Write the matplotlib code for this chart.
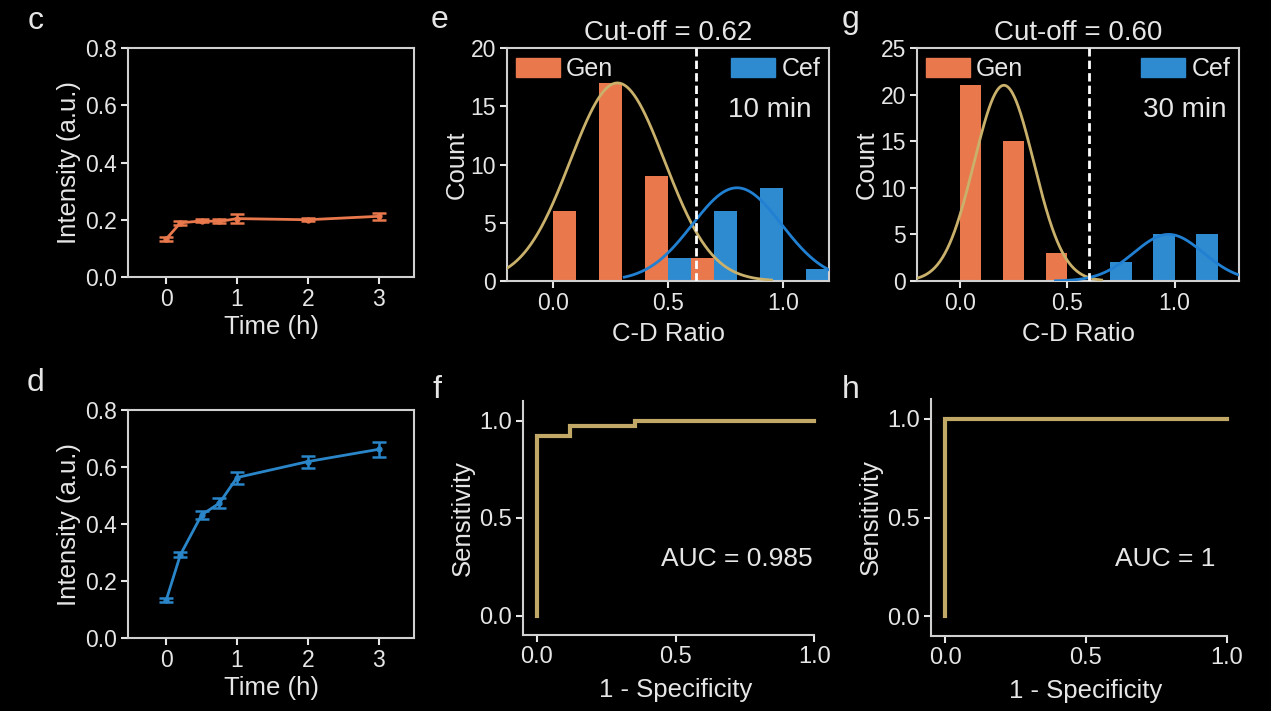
import numpy as np
import matplotlib
matplotlib.use("Agg")
import matplotlib.pyplot as plt
from matplotlib.patches import Patch

plt.rcParams['font.family'] = ['Liberation Sans', 'DejaVu Sans']

# ---------------- data ----------------
time_h = [0, 0.2, 0.5, 0.75, 1, 2, 3]
gen_intensity = [0.133, 0.189, 0.196, 0.194, 0.204, 0.200, 0.212]
gen_err = [0.007, 0.006, 0.005, 0.007, 0.016, 0.006, 0.012]
cef_intensity = [0.133, 0.292, 0.432, 0.473, 0.563, 0.619, 0.662]
cef_err = [0.006, 0.009, 0.015, 0.017, 0.021, 0.021, 0.026]

# histogram panel e (10 min)
e_gen_left = [0.0, 0.2, 0.4, 0.6]
e_gen_count = [6, 17, 9, 2]
e_cef_left = [0.5, 0.7, 0.9, 1.1]
e_cef_count = [2, 6, 8, 1]
e_gen_fit = dict(amp=17, mu=0.28, sigma=0.205, lo=-0.2, hi=0.95)
e_cef_fit = dict(amp=8, mu=0.80, sigma=0.194, lo=0.31, hi=1.2)
e_cutoff = 0.62

# histogram panel g (30 min)
g_gen_left = [0.0, 0.2, 0.4]
g_gen_count = [21, 15, 3]
g_cef_left = [0.7, 0.9, 1.1]
g_cef_count = [2, 5, 5]
g_gen_fit = dict(amp=21, mu=0.205, sigma=0.139, lo=-0.2, hi=0.66)
g_cef_fit = dict(amp=5, mu=0.972, sigma=0.162, lo=0.445, hi=1.3)
g_cutoff = 0.60

# ROC curves
f_fpr = [0, 0, 0.118, 0.118, 0.353, 0.353, 1.0]
f_tpr = [0, 0.923, 0.923, 0.973, 0.973, 1.0, 1.0]
h_fpr = [0, 0, 1.0]
h_tpr = [0, 1.0, 1.0]

# ---------------- style ----------------
W, H = 1271, 711
FG = '#E6E6E6'
SP = '#D0D0D0'
ORANGE = '#E9784C'
BLUE_BAR = '#2E8BD0'
BLUE_LINE = '#2180D2'
GOLD = '#C9B16C'
ROC = '#C2A867'
TICK = 16.5
LAB = 18.5

fig = plt.figure(figsize=(W / 100, H / 100), dpi=100, facecolor='black')


def add_ax(l, r, t, b):
    ax = fig.add_axes([l / W, 1 - b / H, (r - l) / W, (b - t) / H])
    ax.set_facecolor('black')
    for s in ax.spines.values():
        s.set_color(SP)
        s.set_linewidth(1.5)
    ax.tick_params(colors=FG, labelcolor=FG, direction='out', length=5,
                   width=1.5, labelsize=TICK, pad=3)
    return ax


def gauss(p, n=300):
    x = np.linspace(p['lo'], p['hi'], n)
    y = p['amp'] * np.exp(-(x - p['mu']) ** 2 / (2 * p['sigma'] ** 2))
    return x, y


# ---- c and d ----
for (t, b, vals, errs, col, lab) in [
        (48, 277, gen_intensity, gen_err, ORANGE, 'c'),
        (410, 638, cef_intensity, cef_err, '#2A86C8', 'd')]:
    ax = add_ax(128, 414, t, b)
    ax.errorbar(time_h, vals, yerr=errs, color=col, lw=2, marker='o', ms=3.5,
                capsize=5, capthick=1.8, elinewidth=1.8)
    ax.set_xlim(-0.54, 3.5)
    ax.set_ylim(0, 0.8)
    ax.set_xticks([0, 1, 2, 3])
    ax.set_yticks([0, 0.2, 0.4, 0.6, 0.8])
    ax.set_yticklabels(['0.0', '0.2', '0.4', '0.6', '0.8'])
    ax.set_xlabel('Time (h)', color=FG, fontsize=LAB, labelpad=3)
    ax.set_ylabel('Intensity (a.u.)', color=FG, fontsize=LAB, labelpad=3)
    fig.text(36 / W, 1 - (t - 27) / H, lab, color=FG, fontsize=23,
             ha='center', va='center')


# ---- histograms e and g ----
def hist_panel(l, r, gl, gc, cl, cc, gfit, cfit, cut, ymax, yt, xlim,
               title, tlabel, tx, lab):
    ax = add_ax(l, r, 48, 281)
    ax.bar(gl, gc, width=0.1, align='edge', color=ORANGE, zorder=2)
    ax.bar(cl, cc, width=0.1, align='edge', color=BLUE_BAR, zorder=2)
    x, y = gauss(gfit)
    ax.plot(x, y, color=GOLD, lw=2.0, zorder=3)
    x, y = gauss(cfit)
    ax.plot(x, y, color=BLUE_LINE, lw=2.0, zorder=3)
    ax.axvline(cut, color='white', ls=(0, (3, 1.5)), lw=2, zorder=4)
    ax.set_xlim(*xlim)
    ax.set_ylim(0, ymax)
    ax.set_yticks(yt)
    ax.set_xticks([0, 0.5, 1.0])
    ax.set_xticklabels(['0.0', '0.5', '1.0'])
    ax.set_xlabel('C-D Ratio', color=FG, fontsize=LAB, labelpad=5)
    ax.set_ylabel('Count', color=FG, fontsize=LAB, labelpad=1)
    ax.set_title(title, color=FG, fontsize=20, pad=6)
    common = dict(frameon=False, fontsize=18, labelcolor=FG, handlelength=1.75,
                  handleheight=0.8, handletextpad=0.25, borderaxespad=0.15,
                  borderpad=0.2)
    lg1 = ax.legend(handles=[Patch(color=ORANGE, label='Gen')],
                    loc='upper left', **common)
    ax.add_artist(lg1)
    ax.legend(handles=[Patch(color=BLUE_BAR, label='Cef')], loc='upper right',
              **common)
    ax.text(tx, 0.735, tlabel, transform=ax.transAxes, color=FG, fontsize=20,
            ha='right', va='center')
    fig.text((l - 67) / W, 1 - 20 / H, lab, color=FG, fontsize=23,
             ha='center', va='center')


hist_panel(507, 829, e_gen_left, e_gen_count, e_cef_left, e_cef_count,
           e_gen_fit, e_cef_fit, e_cutoff, 20, [0, 5, 10, 15, 20], (-0.2, 1.2),
           'Cut-off = 0.62', '10 min', 0.947, 'e')
hist_panel(917, 1239, g_gen_left, g_gen_count, g_cef_left, g_cef_count,
           g_gen_fit, g_cef_fit, g_cutoff, 25, [0, 5, 10, 15, 20, 25], (-0.2, 1.3),
           'Cut-off = 0.60', '30 min', 0.962, 'g')


# ---- ROC f and h ----
def roc_panel(l, r, t, b, fpr, tpr, auc_text, ax_x, lab_x, lab):
    ax = add_ax(l, r, t, b)
    ax.plot(fpr, tpr, color=ROC, lw=3.0, solid_joinstyle='miter')
    ax.set_xlim(-0.05, 1.05)
    ax.set_ylim(-0.1, 1.1)
    ax.spines['top'].set_visible(False)
    ax.spines['right'].set_visible(False)
    ax.spines['bottom'].set_bounds(-0.05, 1.0)
    ax.set_xticks([0, 0.5, 1.0])
    ax.set_xticklabels(['0.0', '0.5', '1.0'])
    ax.set_yticks([0, 0.5, 1.0])
    ax.set_yticklabels(['0.0', '0.5', '1.0'])
    ax.tick_params(labelsize=17)
    ax.set_xlabel('1 - Specificity', color=FG, fontsize=LAB, labelpad=7)
    ax.set_ylabel('Sensitivity', color=FG, fontsize=LAB, labelpad=3)
    ax.text(ax_x, 0.29, auc_text, color=FG, fontsize=19, ha='right',
            va='center')
    fig.text(lab_x / W, 1 - 390 / H, lab, color=FG, fontsize=23,
             ha='center', va='center')


roc_panel(523, 828, 401, 635, f_fpr, f_tpr, 'AUC = 0.985', 0.995, 437, 'f')
roc_panel(931, 1241, 399, 636, h_fpr, h_tpr, 'AUC = 1', 0.96, 851, 'h')

fig.savefig('out.png', dpi=100, facecolor='black')
